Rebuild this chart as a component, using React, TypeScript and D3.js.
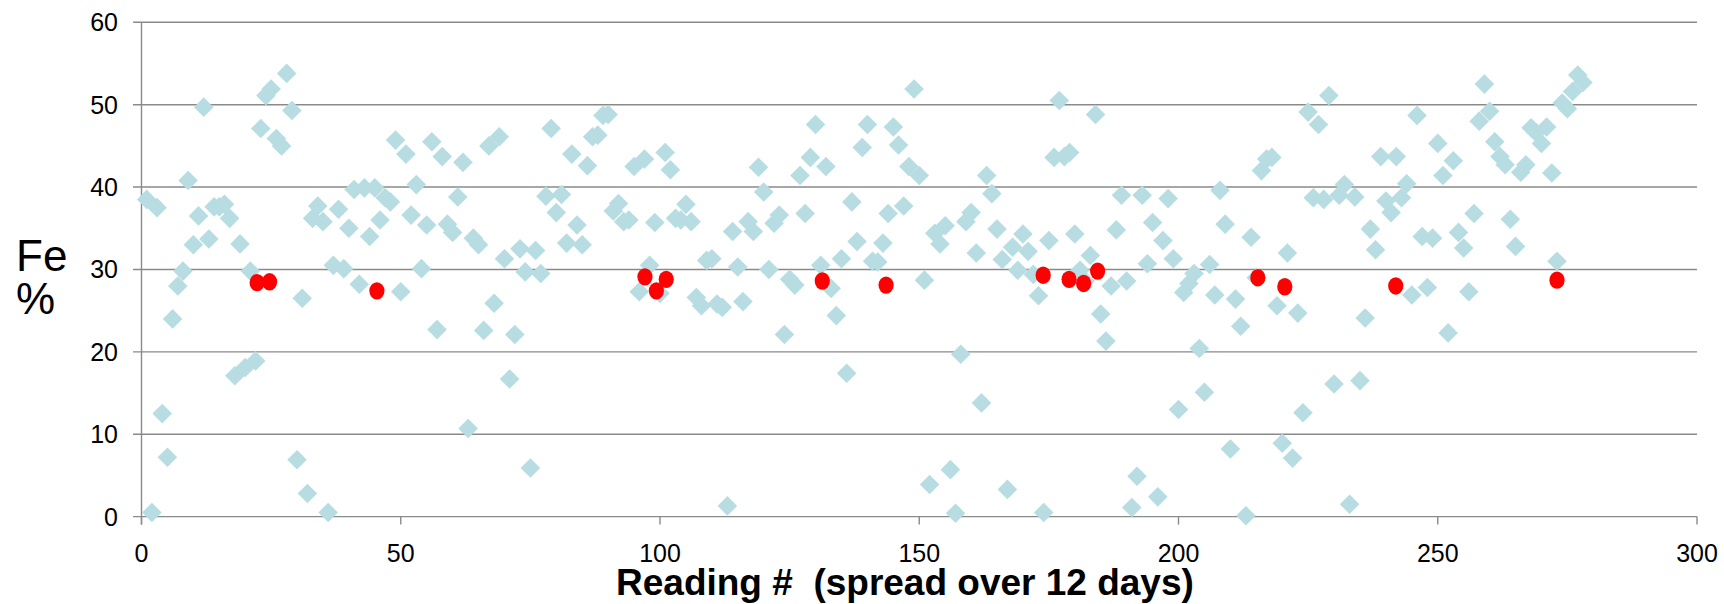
import React from "react";
import * as d3 from "d3";

// Fe % per reading (reading # = index + 1)
const feValues: number[] = [
  38.5, 0.5, 37.5, 12.5, 7.2, 24, 28, 29.8, 40.8, 33,
  36.5, 49.7, 33.7, 37.6, 37.6, 37.9, 36.2, 17.1, 33.1, 18.1,
  29.8, 18.9, 47.1, 51.1, 51.9, 45.9, 45, 53.8, 49.3, 6.9,
  26.5, 2.8, 36.2, 37.7, 35.8, 0.5, 30.5, 37.3, 30.1, 35,
  39.7, 28.2, 39.9, 34, 39.9, 36, 38.7, 38.2, 45.7, 27.3,
  44, 36.6, 40.3, 30.1, 35.4, 45.5, 22.7, 43.7, 35.5, 34.5,
  38.8, 43, 10.7, 33.8, 33, 22.6, 45, 25.9, 46.1, 31.3,
  16.7, 22.1, 32.5, 29.7, 5.9, 32.3, 29.5, 38.9, 47.1, 36.9,
  39.1, 33.2, 44, 35.4, 33, 42.6, 46.1, 46.3, 48.7, 48.8,
  37.1, 38, 35.8, 36, 42.5, 27.3, 43.4, 30.5, 35.7, 27.1,
  44.2, 42.1, 36.2, 36, 37.9, 35.8, 26.6, 25.6, 31.1, 31.3,
  25.8, 25.4, 1.3, 34.6, 30.3, 26.1, 35.8, 34.6, 42.4, 39.4,
  30, 35.6, 36.6, 22.1, 28.8, 28.1, 41.4, 36.8, 43.6, 47.6,
  30.5, 42.5, 27.7, 24.4, 31.3, 17.4, 38.2, 33.4, 44.8, 47.6,
  31, 30.9, 33.2, 36.8, 47.3, 45.1, 37.7, 42.5, 51.9, 41.4,
  28.7, 3.9, 34.4, 33.1, 35.3, 5.7, 0.4, 19.7, 35.8, 36.9,
  32, 13.8, 41.4, 39.2, 34.9, 31.2, 3.3, 32.7, 29.9, 34.3,
  32.2, 29.4, 26.8, 0.5, 33.5, 43.6, 50.5, 43.7, 44.2, 34.3,
  29.9, 28.6, 31.7, 48.8, 24.6, 21.3, 28, 34.8, 39, 28.6,
  1.1, 4.9, 39, 30.7, 35.7, 2.4, 33.5, 38.6, 31.3, 13,
  27.2, 28.3, 29.5, 20.4, 15.1, 30.6, 26.9, 39.6, 35.5, 8.2,
  26.4, 23.1, 0.1, 33.9, 29, 42, 43.4, 43.6, 25.6, 8.9,
  32, 7.1, 24.7, 12.6, 49.1, 38.7, 47.6, 38.5, 51.1, 16.1,
  39, 40.3, 1.5, 38.8, 16.5, 24.1, 34.9, 32.4, 43.7, 38.3,
  36.9, 43.7, 38.7, 40.4, 26.9, 48.7, 34, 27.8, 33.8, 45.3,
  41.4, 22.3, 43.2, 34.5, 32.6, 27.3, 36.8, 48, 52.5, 49.2,
  45.5, 43.7, 42.7, 36.1, 32.8, 41.8, 42.7, 47.2, 46.6, 45.3,
  47.3, 41.7, 31, 50.2, 49.5, 51.6, 53.6, 52.7,
];

// Highlighted readings (red)
const redReadings: number[] = [22.3, 24.7, 45.4, 97.1, 99.3, 101.2, 131.3, 143.6, 173.9, 178.9, 181.7, 184.4, 215.3, 220.5, 241.9, 273.0];
const redValues: number[] = [28.4, 28.5, 27.4, 29.1, 27.4, 28.8, 28.6, 28.1, 29.3, 28.8, 28.3, 29.8, 29.0, 27.9, 28.0, 28.7];

const xTicks: number[] = [0, 50, 100, 150, 200, 250, 300];
const yTicks: number[] = [0, 10, 20, 30, 40, 50, 60];

const W = 1724;
const H = 604;
const FONT = "'Liberation Sans', Arial, Helvetica, sans-serif";

export default function App() {
  React.useEffect(() => {
    document.body.style.margin = "0";
  }, []);

  const x = d3.scaleLinear().domain([0, 300]).range([141.5, 1697]);
  const y = d3.scaleLinear().domain([0, 60]).range([516.6, 22.3]);

  const r = 9.8;
  const diamond = `M0,${-r}L${r},0L0,${r}L${-r},0Z`;
  const gridColor = "#8a8a8a";

  return (
    <svg
      width={W}
      height={H}
      style={{ position: "absolute", left: 0, top: 0, display: "block", background: "#fff" }}
    >
      {/* gridlines */}
      {yTicks.map((v) => (
        <line
          key={"g" + v}
          x1={133}
          x2={x(300)}
          y1={y(v)}
          y2={y(v)}
          stroke={gridColor}
          strokeWidth={1.4}
        />
      ))}
      {/* y axis */}
      <line x1={x(0)} x2={x(0)} y1={y(60)} y2={y(0) + 8} stroke={gridColor} strokeWidth={1.4} />
      {/* x ticks */}
      {xTicks.map((v) => (
        <line key={"t" + v} x1={x(v)} x2={x(v)} y1={y(0)} y2={y(0) + 8} stroke={gridColor} strokeWidth={1.4} />
      ))}
      {/* y tick labels */}
      {yTicks.map((v) => (
        <text key={"yl" + v} x={118} y={y(v) + 9} textAnchor="end" fontFamily={FONT} fontSize={25} fill="#000">
          {v}
        </text>
      ))}
      {/* x tick labels */}
      {xTicks.map((v) => (
        <text key={"xl" + v} x={x(v)} y={562} textAnchor="middle" fontFamily={FONT} fontSize={25} fill="#000">
          {v}
        </text>
      ))}
      {/* diamonds */}
      {feValues.map((v, i) => (
        <path key={"d" + i} d={diamond} transform={`translate(${x(i + 1)},${y(v)})`} fill="#b7dde2" />
      ))}
      {/* red points */}
      {redReadings.map((rx, i) => (
        <ellipse key={"r" + i} cx={x(rx)} cy={y(redValues[i])} rx={7.6} ry={8.7} fill="#ff0000" />
      ))}
      {/* axis titles */}
      <text x={16} y={271} fontFamily={FONT} fontSize={44} fill="#000">
        Fe
      </text>
      <text x={16} y={314} fontFamily={FONT} fontSize={44} fill="#000">
        %
      </text>
      <text x={616} y={595} fontFamily={FONT} fontSize={37} fontWeight="bold" fill="#000" xmlSpace="preserve">
        {"Reading #  (spread over 12 days)"}
      </text>
    </svg>
  );
}
